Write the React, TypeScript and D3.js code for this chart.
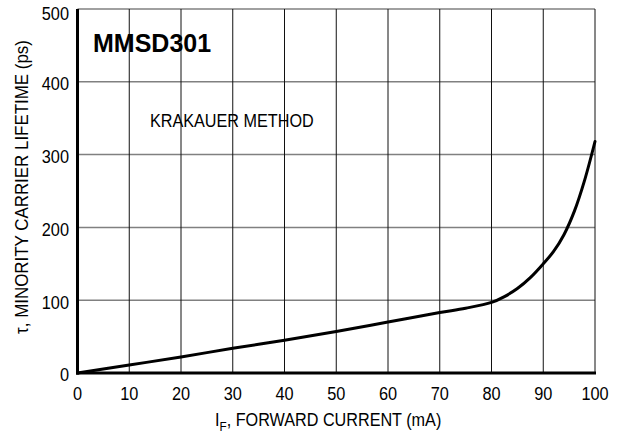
import React from "react";
import * as d3 from "d3";

const current = [0, 10, 20, 30, 40, 50, 60, 70, 75, 80, 82.5, 85, 87.5, 90, 92, 94, 96, 98, 100];
const lifetime = [0, 11, 22, 34, 45, 57, 70, 83, 89, 97, 105, 116, 131, 150, 167, 190, 222, 265, 318];
const xTicks = [0, 10, 20, 30, 40, 50, 60, 70, 80, 90, 100];
const yTicks = [0, 100, 200, 300, 400, 500];

const W = 618;
const H = 436;
const left = 77.5;
const right = 595;
const top = 9;
const bottom = 373;
const FONT = "'Liberation Sans', Arial, sans-serif";

function NText(props: {
  x: number;
  y: number;
  sx?: number;
  size: number;
  anchor?: string;
  weight?: string;
  rotate?: number;
  children: React.ReactNode;
}) {
  const { x, y, sx = 0.86, size, anchor = "start", weight = "normal", rotate = 0, children } = props;
  return (
    <text
      transform={`translate(${x},${y}) rotate(${rotate}) scale(${sx},1)`}
      textAnchor={anchor}
      fontSize={size}
      fontWeight={weight}
      fill="#000"
    >
      {children}
    </text>
  );
}

export default function App() {
  const x = d3.scaleLinear().domain([0, 100]).range([left, right]);
  const y = d3.scaleLinear().domain([0, 500]).range([bottom, top]);
  const line = d3
    .line<number>()
    .x((_, i) => x(current[i]))
    .y((d) => y(d))
    .curve(d3.curveCatmullRom.alpha(0.5));

  return (
    <svg
      width={W}
      height={H}
      style={{ position: "absolute", left: 0, top: 0, background: "#fff" }}
      fontFamily={FONT}
    >
      {/* horizontal grid */}
      {yTicks.filter((t) => t > 0).map((t) => (
        <line key={"h" + t} x1={left} x2={right} y1={y(t)} y2={y(t)} stroke="#808080" strokeWidth={1.5} />
      ))}
      {/* vertical grid */}
      {xTicks.filter((t) => t > 0).map((t) => (
        <line key={"v" + t} x1={x(t)} x2={x(t)} y1={top} y2={bottom} stroke="#111" strokeWidth={1} />
      ))}
      {/* axes */}
      <line x1={left} x2={left} y1={top} y2={bottom + 1.5} stroke="#000" strokeWidth={3} />
      <line x1={left - 1.5} x2={right + 1} y1={bottom} y2={bottom} stroke="#000" strokeWidth={3} />
      {/* curve */}
      <path d={line(lifetime) || ""} fill="none" stroke="#000" strokeWidth={3} strokeLinejoin="round" strokeLinecap="round" />
      {/* x tick labels */}
      {xTicks.map((t) => (
        <NText key={"xl" + t} x={x(t)} y={400} size={19} anchor="middle">
          {t}
        </NText>
      ))}
      {/* y tick labels */}
      {yTicks.map((t) => (
        <NText key={"yl" + t} x={69} y={t === 500 ? 20 : y(t) + 8.3} size={19} anchor="end">
          {t}
        </NText>
      ))}
      {/* annotations */}
      <text x={93} y={52} fontSize={25} fontWeight="bold" fill="#000">
        MMSD301
      </text>
      <NText x={150} y={126.5} size={18} sx={0.9}>
        KRAKAUER METHOD
      </NText>
      {/* axis titles */}
      <NText x={215} y={426} size={18} sx={0.9}>
        I<tspan fontSize={13} dy={5}>F</tspan>
        <tspan dy={-5}>, FORWARD CURRENT  (mA)</tspan>
      </NText>
      <NText x={28} y={187} size={18} sx={0.94} anchor="middle" rotate={-90}>
        τ, MINORITY CARRIER LIFETIME (ps)
      </NText>
    </svg>
  );
}
